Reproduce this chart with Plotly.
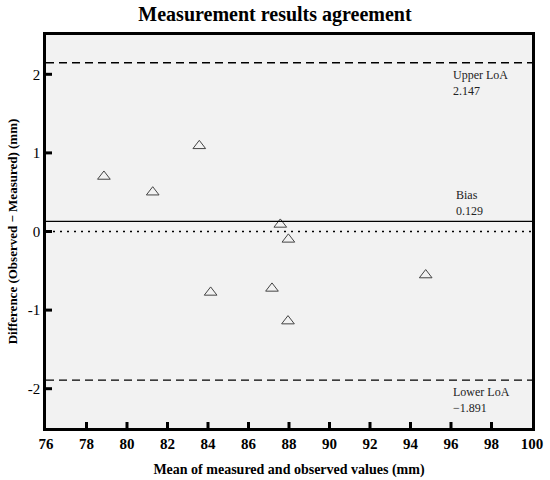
import plotly.graph_objects as go

# Bland-Altman data
mean_vals = [78.86, 81.27, 83.57, 87.57, 87.97, 84.13, 87.16, 87.95, 94.75]
diff_vals = [0.70, 0.50, 1.09, 0.09, -0.10, -0.775, -0.724, -1.14, -0.554]

bias = 0.129
upper_loa = 2.147
lower_loa = -1.891

x_ticks = list(range(76, 101, 2))
y_ticks = [-2, -1, 0, 1, 2]
x_range = [76, 100]
y_range = [-2.5, 2.5]

serif = "Liberation Serif, Times New Roman, serif"

fig = go.Figure()

fig.add_trace(
    go.Scatter(
        x=mean_vals,
        y=diff_vals,
        mode="markers",
        marker=dict(symbol="triangle-up-open", size=11, color="#444444",
                    line=dict(width=1)),
        showlegend=False,
        hoverinfo="skip",
    )
)

# limits of agreement (dashed), bias (solid), zero (dotted)
for yv in (upper_loa, lower_loa):
    fig.add_shape(type="line", xref="paper", x0=0, x1=1, yref="y", y0=yv, y1=yv,
                  line=dict(color="black", width=1.3, dash="8px,5px"))
fig.add_shape(type="line", xref="paper", x0=0, x1=1, yref="y", y0=bias, y1=bias,
              line=dict(color="black", width=1.3))
fig.add_shape(type="line", xref="paper", x0=0, x1=1, yref="y", y0=0, y1=0,
              line=dict(color="black", width=1.5, dash="2px,5px"))

# inward tick marks (axis "inside" ticks do not show up in this renderer)
for t in x_ticks[1:-1]:
    fig.add_shape(type="line", xref="x", x0=t, x1=t,
                  yref="paper", ysizemode="pixel", yanchor=0, y0=0, y1=6,
                  line=dict(color="black", width=3))
for t in y_ticks:
    fig.add_shape(type="line", yref="y", y0=t, y1=t,
                  xref="paper", xsizemode="pixel", xanchor=0, x0=0, x1=6,
                  line=dict(color="black", width=3))

ann_font = dict(family=serif, size=12, color="#222222")
fig.add_annotation(x=96.0, y=upper_loa, text=f"Upper LoA<br>{upper_loa:.3f}",
                   xanchor="left", yanchor="top", yshift=-3, showarrow=False,
                   align="left", font=ann_font)
fig.add_annotation(x=96.15, y=bias, text=f"Bias<br>{bias:.3f}",
                   xanchor="left", yanchor="bottom", yshift=1, showarrow=False,
                   align="left", font=ann_font)
fig.add_annotation(x=96.0, y=lower_loa, text=f"Lower LoA<br>\u2212{abs(lower_loa):.3f}",
                   xanchor="left", yanchor="top", yshift=-3, showarrow=False,
                   align="left", font=ann_font)

fig.update_layout(
    width=550,
    height=480,
    margin=dict(l=46, r=18, t=35, b=52),
    paper_bgcolor="white",
    plot_bgcolor="#f2f2f2",
    font=dict(family=serif, color="black"),
    title=dict(text="<b>Measurement results agreement</b>", x=0.5, xanchor="center",
               y=0.971, yanchor="middle", font=dict(family=serif, size=20)),
)

axis_style = dict(
    tickfont=dict(family=serif, size=15),
    ticks="",
    showline=True, linewidth=2.5, linecolor="black", mirror=True,
    showgrid=False, zeroline=False, automargin=False,
)

fig.update_xaxes(
    range=x_range,
    tickvals=x_ticks,
    ticktext=[f"<b>{t}</b>" for t in x_ticks],
    title=dict(text="<b>Mean of measured and observed values (mm)</b>",
               font=dict(family=serif, size=14), standoff=14),
    **axis_style,
)
fig.update_yaxes(
    range=y_range,
    tickvals=y_ticks,
    ticktext=["-2", "-1", "0", "1", "2"],
    title=dict(text="<b>Difference (Observed \u2212 Measured) (mm)</b>",
               font=dict(family=serif, size=13), standoff=8),
    **axis_style,
)

# drop the default page margin so the figure sits at the window corner
fig.write_html("out.html", config={"displayModeBar": False},
               post_script="document.body.style.margin = '0';")
